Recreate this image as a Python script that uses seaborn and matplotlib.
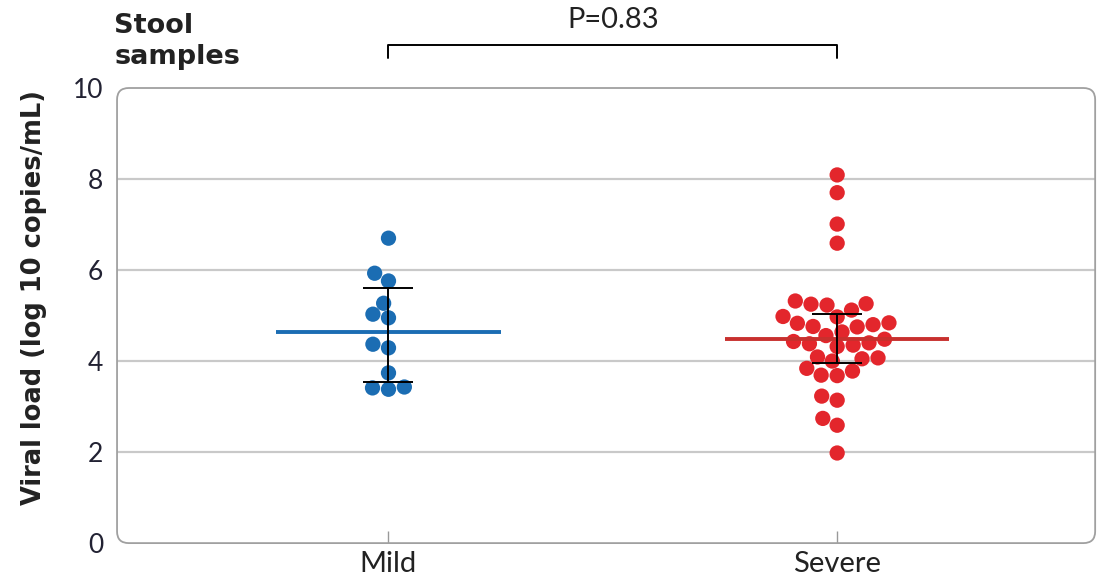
import numpy as np
import pandas as pd
import seaborn as sns
import matplotlib.pyplot as plt
from matplotlib.patches import FancyBboxPatch

sns.set_theme(style='white')
plt.rcParams['font.family'] = ['Lato', 'DejaVu Sans']

# values (log10 copies/mL)
groups = ['Mild', 'Severe']
mild = [6.70, 5.93, 5.76, 5.27, 5.03, 4.95, 4.37, 4.29, 3.74, 3.43, 3.41, 3.38]
severe = [8.09, 7.70, 7.01, 6.59, 5.32, 4.83, 4.48, 1.98,
          4.05, 3.84, 3.23, 2.74,
          4.32, 4.00, 3.14, 2.59,
          5.12, 4.75, 4.35,
          5.25, 4.76, 4.56,
          4.07,
          4.09, 3.78,
          5.26, 4.84, 4.38,
          5.23, 4.97, 4.64,
          3.68, 3.69,
          4.80, 4.43,
          4.98, 4.40]
centre = [4.64, 4.48]
whisk_lo = [3.54, 3.96]
whisk_hi = [5.60, 5.03]
p_text = 'P=0.83'

dot_cols = ['#1b6db3', '#e3262c']
line_cols = ['#1b6db3', '#c8302e']

df = pd.DataFrame({'group': ['Mild'] * len(mild) + ['Severe'] * len(severe),
                   'load': mild + severe})

fig = plt.figure(figsize=(10.99, 5.79), dpi=100)
ax = fig.add_axes([0.1065, 0.062, 0.890, 0.786])

for y in [2, 4, 6, 8]:
    ax.axhline(y, color='#c9c9c9', lw=1.6, zorder=0)

sns.swarmplot(data=df, x='group', y='load', hue='group', palette=dot_cols,
              order=groups, size=11, legend=False, ax=ax, zorder=3, linewidth=0)

for i in range(len(groups)):
    ax.hlines(centre[i], i - 0.25, i + 0.25, color=line_cols[i], lw=2.8, zorder=4)
    ax.errorbar(i, centre[i], yerr=[[centre[i] - whisk_lo[i]], [whisk_hi[i] - centre[i]]],
                fmt='none', ecolor='black', elinewidth=1.4, capsize=18, capthick=1.4, zorder=5)

ax.set_xlim(-0.605, 1.575)
ax.set_ylim(0, 10)
ax.set_yticks([0, 2, 4, 6, 8, 10])
ax.set_xlabel('')
ax.set_ylabel('Viral load (log 10 copies/mL)', fontsize=18.5, fontweight='bold',
              family='DejaVu Sans', color='#222222')
ax.yaxis.set_label_coords(-0.072, 0.54)
ax.tick_params(axis='y', labelsize=19, length=0, pad=10, labelcolor='#222233')
ax.tick_params(axis='x', labelsize=21, direction='in', length=9, width=1, color='#999999',
               bottom=True, pad=6, labelcolor='#222222')
for s in ax.spines.values():
    s.set_visible(False)

# rounded frame
frame = FancyBboxPatch((0, 0), 1, 1, boxstyle='round,pad=0,rounding_size=0.012',
                       transform=ax.transAxes, mutation_aspect=973 / 455,
                       fill=False, edgecolor='#a0a0a0', lw=1.3, clip_on=False, zorder=1)
ax.add_patch(frame)

# significance bracket
ax.plot([0, 0, 1, 1], [10.66, 10.94, 10.94, 10.66], color='black', lw=1.4, clip_on=False)
ax.text(0.5, 11.5, p_text, ha='center', va='center', fontsize=21, color='#222222')

fig.text(0.104, 0.978, 'Stool\nsamples', ha='left', va='top', fontsize=19.5,
         fontweight='bold', family='DejaVu Sans', linespacing=1.25, color='#222222')

fig.savefig('out.png', dpi=100)
